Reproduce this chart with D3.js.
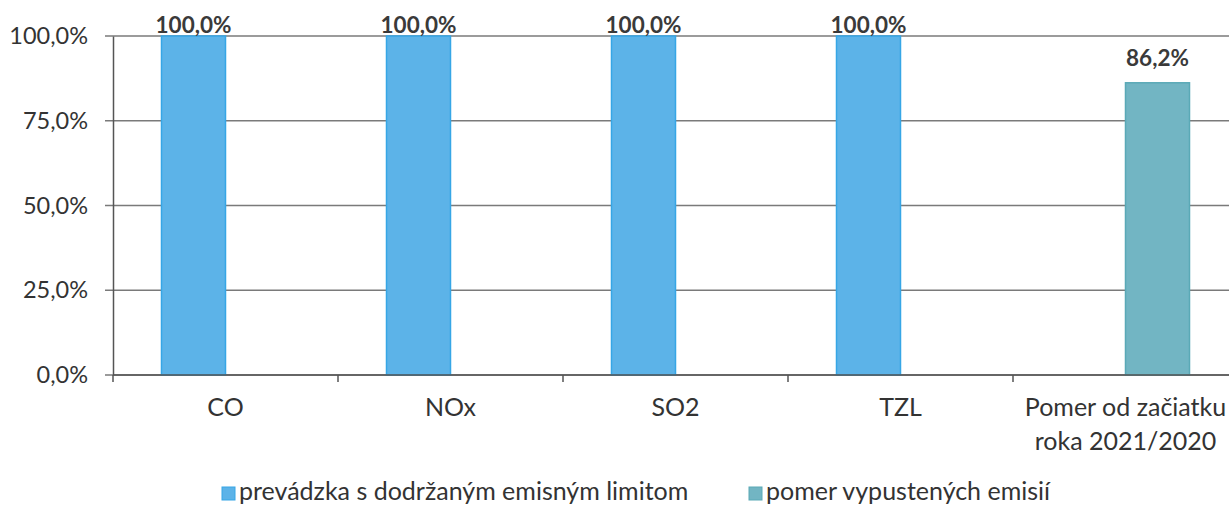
<!DOCTYPE html>
<html><head><meta charset="utf-8">
<script src="https://cdn.jsdelivr.net/npm/d3@7"></script>
<style>body{margin:0;background:#fff;} svg{display:block;font-family:Lato, "Open Sans", sans-serif;}</style>
</head><body>
<svg id="c" width="1229" height="507"></svg>
<script>
const categories = ["CO", "NOx", "SO2", "TZL", "Pomer od začiatku|roka 2021/2020"];
const seriesNames = ["prevádzka s dodržaným emisným limitom", "pomer vypustených emisií"];
const series1 = [100.0, 100.0, 100.0, 100.0, null];
const series2 = [null, null, null, null, 86.2];
const yTicks = [0, 25, 50, 75, 100];
const colors = ["#5cb3e8", "#72b5c3"];
const strokes = ["#36a6e6", "#5aa9b6"];

const svg = d3.select("#c");
const x0 = d3.scaleBand().domain(categories).range([113, 1238]).paddingInner(0).paddingOuter(0);
const x1 = d3.scaleBand().domain([0, 1]).range([48.5, 225 - 48.5]);
const y = d3.scaleLinear().domain([0, 100]).range([375, 36]);
const fmt = v => d3.format(".1f")(v).replace(".", ",") + "%";

// gridlines
svg.append("g").selectAll("line").data(yTicks).join("line")
  .attr("x1", 105).attr("x2", 1229)
  .attr("y1", d => y(d)).attr("y2", d => y(d))
  .attr("stroke", "#7a7a7a").attr("stroke-width", 1.3);

// y axis
const yAxis = d3.axisLeft(y).tickValues(yTicks).tickSize(0).tickPadding(25).tickFormat(fmt);
const gy = svg.append("g").attr("transform", "translate(113,0)").call(yAxis);
gy.select(".domain").attr("stroke", "#555").attr("stroke-width", 1.5);
gy.selectAll("text").attr("font-size", 23.5).attr("fill", "#333").attr("font-family", "Lato");

const data = [series1, series2];
data.forEach((s, si) => {
  const g = svg.append("g");
  categories.forEach((c, i) => {
    const v = s[i];
    if (v == null) return;
    const bx = x0(c) + x1(si);
    g.append("rect").attr("x", bx).attr("y", y(v)).attr("width", x1.bandwidth()).attr("height", y(0) - y(v))
      .attr("fill", colors[si]).attr("stroke", strokes[si]).attr("stroke-width", 1.5);
    g.append("text").attr("x", bx + x1.bandwidth() / 2).attr("y", y(v) - (si === 0 ? 3 : 17))
      .attr("text-anchor", "middle").attr("font-size", 22.5).attr("font-weight", "bold").attr("fill", "#3a3a3a")
      .text(fmt(v));
  });
});

// x axis
const gx = svg.append("g").attr("transform", `translate(0,${y(0)})`);
gx.append("line").attr("x1", 113).attr("x2", 1229).attr("stroke", "#555").attr("stroke-width", 1.5);
gx.selectAll("line.t").data(categories).join("line").attr("class", "t")
  .attr("x1", d => x0(d)).attr("x2", d => x0(d)).attr("y1", 0).attr("y2", 7)
  .attr("stroke", "#555").attr("stroke-width", 1.5);
gx.selectAll("text").data(categories).join("text")
  .attr("x", d => x0(d) + x0.bandwidth() / 2).attr("y", 41)
  .attr("text-anchor", "middle").attr("font-size", 25).attr("fill", "#333")
  .each(function(d) {
    const lines = d.split("|");
    const t = d3.select(this);
    lines.forEach((l, k) => t.append("tspan").attr("x", x0(d) + x0.bandwidth() / 2).attr("dy", k === 0 ? 0 : 34).text(l));
  });

// legend
const leg = [{x: 222, i: 0}, {x: 749, i: 1}];
leg.forEach(l => {
  svg.append("rect").attr("x", l.x).attr("y", 487).attr("width", 13).attr("height", 13)
    .attr("fill", colors[l.i]).attr("stroke", strokes[l.i]).attr("stroke-width", 1);
  svg.append("text").attr("x", l.x + 17).attr("y", 500).attr("font-size", 25).attr("fill", "#333")
    .text(seriesNames[l.i]);
});
</script>
</body></html>
